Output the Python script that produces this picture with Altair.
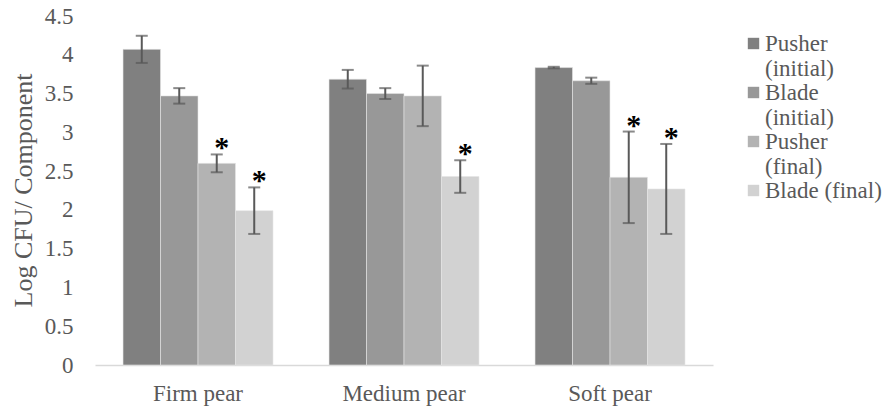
import altair as alt
import pandas as pd

groups = ["Firm pear", "Medium pear", "Soft pear"]
series = ["Pusher (initial)", "Blade (initial)", "Pusher (final)", "Blade (final)"]
colors = ["#808080", "#989898", "#b3b3b3", "#d2d2d2"]

# mean Log CFU per series, one value per group (Firm, Medium, Soft)
pusher_initial = [4.07, 3.685, 3.835]
blade_initial = [3.47, 3.50, 3.665]
pusher_final = [2.60, 3.47, 2.42]
blade_final = [1.99, 2.43, 2.27]

# error (+/-) per series
pusher_initial_err = [0.175, 0.12, 0.01]
blade_initial_err = [0.10, 0.07, 0.04]
pusher_final_err = [0.115, 0.39, 0.59]
blade_final_err = [0.30, 0.21, 0.58]

# significance markers
pusher_initial_sig = [False, False, False]
blade_initial_sig = [False, False, False]
pusher_final_sig = [True, False, True]
blade_final_sig = [True, True, True]

y_ticks = [0, 0.5, 1, 1.5, 2, 2.5, 3, 3.5, 4, 4.5]

means = [pusher_initial, blade_initial, pusher_final, blade_final]
errs = [pusher_initial_err, blade_initial_err, pusher_final_err, blade_final_err]
sigs = [pusher_initial_sig, blade_initial_sig, pusher_final_sig, blade_final_sig]

rows = []
for si, s in enumerate(series):
    for gi, g in enumerate(groups):
        m = means[si][gi]
        e = errs[si][gi]
        rows.append({
            "group": g, "series": s, "order": si, "value": m,
            "lo": m - e, "hi": m + e,
            "star": "*" if sigs[si][gi] else "",
        })
df = pd.DataFrame(rows)

FONT = "Liberation Serif"
GREY = "#595959"

x = alt.X("group:N", sort=groups, title=None,
          scale=alt.Scale(paddingInner=0.272, paddingOuter=0.136),
          axis=alt.Axis(labelAngle=0, ticks=False, domainColor="#d9d9d9",
                        domainWidth=1.5, labelPadding=17, labelFontSize=23,
                        labelColor=GREY, labelFont=FONT))
xoff = alt.XOffset("series:N", sort=series, scale=alt.Scale(paddingInner=0, paddingOuter=0))
yscale = alt.Scale(domain=[0, 4.5], nice=False)
yaxis = alt.Axis(values=y_ticks, labelOverlap=False,
                 format="~g", grid=False, domain=False, ticks=False,
                 labelPadding=22, labelFontSize=23, labelColor=GREY,
                 labelFont=FONT, titleFont=FONT, titleFontSize=26,
                 titleFontWeight="normal", titleColor=GREY,
                 titleX=-72, titleY=174, titleAngle=270,
                 titleAlign="center", titleBaseline="middle")
YT = "Log CFU/ Component"

base = alt.Chart(df)

bars = base.mark_bar(stroke="#e6e6e6", strokeWidth=0.6).encode(
    x=x, xOffset=xoff,
    y=alt.Y("value:Q", scale=yscale, title=YT, axis=yaxis),
    color=alt.Color("series:N", sort=series,
                    scale=alt.Scale(domain=series, range=colors),
                    legend=alt.Legend(title=None, orient="none", legendX=647,
                                      legendY=16, symbolType="square",
                                      symbolSize=130, symbolStrokeWidth=0,
                                      labelFont=FONT, labelFontSize=23,
                                      labelColor=GREY, labelOffset=0,
                                      rowPadding=0, labelLimit=200,
                                      labelExpr="datum.label == 'Blade (final)' ? datum.label : split(datum.label, ' ')")),
)

rules = base.mark_rule(color=GREY, strokeWidth=2).encode(
    x=x, xOffset=xoff, y=alt.Y("lo:Q", scale=yscale, title=YT, axis=yaxis), y2="hi:Q")

caps_hi = base.mark_tick(color=GREY, thickness=2, size=12).encode(
    x=x, xOffset=xoff, y=alt.Y("hi:Q", scale=yscale, title=YT, axis=yaxis))
caps_lo = base.mark_tick(color=GREY, thickness=2, size=12).encode(
    x=x, xOffset=xoff, y=alt.Y("lo:Q", scale=yscale, title=YT, axis=yaxis))

stars = base.mark_text(font=FONT, fontSize=30, fontWeight="bold", color="#000000",
                       baseline="alphabetic", dx=5, dy=3).encode(
    x=x, xOffset=xoff, y=alt.Y("hi:Q", scale=yscale, title=YT, axis=yaxis),
    text="star:N")

chart = alt.layer(bars, rules, caps_hi, caps_lo, stars).properties(
    width=618, height=349,
    background="white",
    autosize=alt.AutoSizeParams(type="none"),
    padding={"left": 95, "top": 16, "right": 177, "bottom": 48},
).configure_view(stroke=None).configure_legend(
    labelFont=FONT, labelFontSize=23, labelColor=GREY
).configure_axis(labelFont=FONT, titleFont=FONT)

chart.save("out.html", embed_options={"renderer": "svg", "actions": False})
